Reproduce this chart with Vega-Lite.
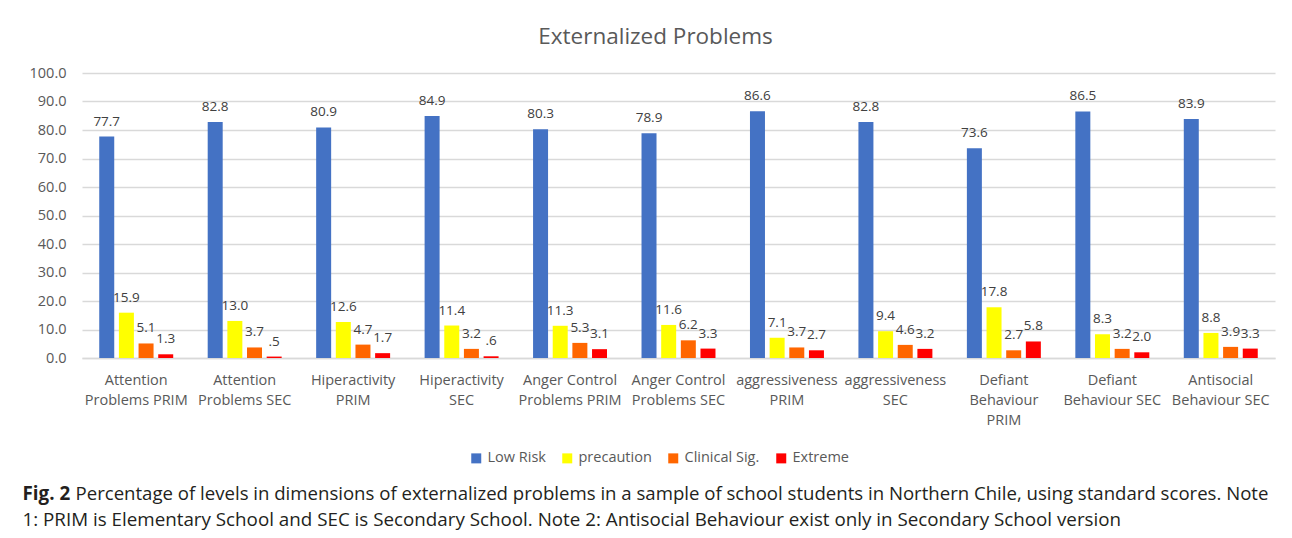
{
  "$schema": "https://vega.github.io/schema/vega-lite/v6.json",
  "autosize": {"type": "none"},
  "width": 1193,
  "height": 285,
  "padding": {"left": 82, "top": 73, "right": 17, "bottom": 180},
  "background": "white",
  "title": {
    "text": "Externalized Problems",
    "fontSize": 22.5,
    "font": "Open Sans",
    "fontWeight": "normal",
    "color": "#595959",
    "anchor": "middle",
    "frame": "group",
    "dx": -23,
    "offset": 17
  },
  "data": {
    "values": [
      {"dimension": "Attention\nProblems PRIM", "level": "Low Risk", "value": 77.7},
      {"dimension": "Attention\nProblems PRIM", "level": "precaution", "value": 15.9},
      {"dimension": "Attention\nProblems PRIM", "level": "Clinical Sig.", "value": 5.1},
      {"dimension": "Attention\nProblems PRIM", "level": "Extreme", "value": 1.3},
      {"dimension": "Attention\nProblems SEC", "level": "Low Risk", "value": 82.8},
      {"dimension": "Attention\nProblems SEC", "level": "precaution", "value": 13.0},
      {"dimension": "Attention\nProblems SEC", "level": "Clinical Sig.", "value": 3.7},
      {"dimension": "Attention\nProblems SEC", "level": "Extreme", "value": 0.5},
      {"dimension": "Hiperactivity\nPRIM", "level": "Low Risk", "value": 80.9},
      {"dimension": "Hiperactivity\nPRIM", "level": "precaution", "value": 12.6},
      {"dimension": "Hiperactivity\nPRIM", "level": "Clinical Sig.", "value": 4.7},
      {"dimension": "Hiperactivity\nPRIM", "level": "Extreme", "value": 1.7},
      {"dimension": "Hiperactivity\nSEC", "level": "Low Risk", "value": 84.9},
      {"dimension": "Hiperactivity\nSEC", "level": "precaution", "value": 11.4},
      {"dimension": "Hiperactivity\nSEC", "level": "Clinical Sig.", "value": 3.2},
      {"dimension": "Hiperactivity\nSEC", "level": "Extreme", "value": 0.6},
      {"dimension": "Anger Control\nProblems PRIM", "level": "Low Risk", "value": 80.3},
      {"dimension": "Anger Control\nProblems PRIM", "level": "precaution", "value": 11.3},
      {"dimension": "Anger Control\nProblems PRIM", "level": "Clinical Sig.", "value": 5.3},
      {"dimension": "Anger Control\nProblems PRIM", "level": "Extreme", "value": 3.1},
      {"dimension": "Anger Control\nProblems SEC", "level": "Low Risk", "value": 78.9},
      {"dimension": "Anger Control\nProblems SEC", "level": "precaution", "value": 11.6},
      {"dimension": "Anger Control\nProblems SEC", "level": "Clinical Sig.", "value": 6.2},
      {"dimension": "Anger Control\nProblems SEC", "level": "Extreme", "value": 3.3},
      {"dimension": "aggressiveness\nPRIM", "level": "Low Risk", "value": 86.6},
      {"dimension": "aggressiveness\nPRIM", "level": "precaution", "value": 7.1},
      {"dimension": "aggressiveness\nPRIM", "level": "Clinical Sig.", "value": 3.7},
      {"dimension": "aggressiveness\nPRIM", "level": "Extreme", "value": 2.7},
      {"dimension": "aggressiveness\nSEC", "level": "Low Risk", "value": 82.8},
      {"dimension": "aggressiveness\nSEC", "level": "precaution", "value": 9.4},
      {"dimension": "aggressiveness\nSEC", "level": "Clinical Sig.", "value": 4.6},
      {"dimension": "aggressiveness\nSEC", "level": "Extreme", "value": 3.2},
      {"dimension": "Defiant\nBehaviour\nPRIM", "level": "Low Risk", "value": 73.6},
      {"dimension": "Defiant\nBehaviour\nPRIM", "level": "precaution", "value": 17.8},
      {"dimension": "Defiant\nBehaviour\nPRIM", "level": "Clinical Sig.", "value": 2.7},
      {"dimension": "Defiant\nBehaviour\nPRIM", "level": "Extreme", "value": 5.8},
      {"dimension": "Defiant\nBehaviour SEC", "level": "Low Risk", "value": 86.5},
      {"dimension": "Defiant\nBehaviour SEC", "level": "precaution", "value": 8.3},
      {"dimension": "Defiant\nBehaviour SEC", "level": "Clinical Sig.", "value": 3.2},
      {"dimension": "Defiant\nBehaviour SEC", "level": "Extreme", "value": 2.0},
      {"dimension": "Antisocial\nBehaviour SEC", "level": "Low Risk", "value": 83.9},
      {"dimension": "Antisocial\nBehaviour SEC", "level": "precaution", "value": 8.8},
      {"dimension": "Antisocial\nBehaviour SEC", "level": "Clinical Sig.", "value": 3.9},
      {"dimension": "Antisocial\nBehaviour SEC", "level": "Extreme", "value": 3.3}
    ]
  },
  "transform": [
    {"calculate": "datum.value < 1 ? substring(format(datum.value, '.1f'), 1) : format(datum.value, '.1f')", "as": "label"}
  ],
  "encoding": {
    "xOffset": {
      "field": "level",
      "type": "nominal",
      "sort": ["Low Risk", "precaution", "Clinical Sig.", "Extreme"],
      "scale": {"paddingInner": 0.237, "paddingOuter": 0}
    },
    "y": {
      "field": "value",
      "type": "quantitative",
      "scale": {"domain": [0, 100], "nice": false},
      "axis": {
        "values": [0, 10, 20, 30, 40, 50, 60, 70, 80, 90, 100],
        "format": ".1f",
        "labelFontSize": 14.5,
        "labelColor": "#595959",
        "labelFont": "Open Sans",
        "labelPadding": 16,
        "ticks": false,
        "domain": false,
        "grid": true,
        "gridColor": "#D9D9D9",
        "gridWidth": 1.3,
        "title": "Fig. 2",
        "titleAngle": 0,
        "titleX": -60,
        "titleY": 426,
        "titleAlign": "left",
        "titleBaseline": "alphabetic",
        "titleFont": "Open Sans",
        "titleFontSize": 18.8,
        "titleFontWeight": "bold",
        "titleColor": "#231F20"
      }
    }
  },
  "layer": [
    {
      "mark": {"type": "bar"},
      "encoding": {
        "x": {
          "field": "dimension",
          "type": "nominal",
          "sort": null,
          "scale": {"paddingInner": 0.318, "paddingOuter": 0.159},
          "axis": {
            "orient": "bottom",
            "labelAngle": 0,
            "labelExpr": "split(datum.label, '\\n')",
            "labelFontSize": 14.5,
            "labelLineHeight": 20,
            "labelColor": "#595959",
            "labelFont": "Open Sans",
            "labelPadding": 15,
            "labelLimit": 200,
            "ticks": false,
            "domain": true,
            "domainColor": "#D9D9D9",
            "domainWidth": 1.3,
            "title": "1: PRIM is Elementary School and SEC is Secondary School. Note 2: Antisocial Behaviour exist only in Secondary School version",
            "titleX": -60,
            "titleY": 167,
            "titleAlign": "left",
            "titleBaseline": "alphabetic",
            "titleAnchor": "start",
            "titleFont": "Open Sans",
            "titleFontSize": 18.8,
            "titleFontWeight": "normal",
            "titleColor": "#231F20"
          }
        },
        "color": {
          "field": "level",
          "type": "nominal",
          "scale": {
            "domain": ["Low Risk", "precaution", "Clinical Sig.", "Extreme"],
            "range": ["#4472C4", "#FFFF00", "#FF6600", "#FF0000"]
          },
          "legend": {
            "title": null,
            "orient": "none",
            "legendX": 387,
            "legendY": 378,
            "direction": "horizontal",
            "columns": 4,
            "symbolType": "square",
            "symbolSize": 100,
            "symbolStrokeWidth": 0,
            "labelFontSize": 14.5,
            "labelFont": "Open Sans",
            "labelColor": "#595959",
            "labelOffset": 4,
            "columnPadding": 14
          }
        }
      }
    },
    {
      "mark": {"type": "text", "baseline": "alphabetic", "dy": -11, "fontSize": 13.5, "font": "Open Sans", "color": "#404040"},
      "encoding": {
        "x": {
          "field": "dimension",
          "type": "nominal",
          "sort": null,
          "axis": {
            "orient": "bottom",
            "labels": false,
            "ticks": false,
            "domain": false,
            "grid": false,
            "title": "Percentage of levels in dimensions of externalized problems in a sample of school students in Northern Chile, using standard scores. Note",
            "titleX": -7,
            "titleY": 141,
            "titleAlign": "left",
            "titleBaseline": "alphabetic",
            "titleAnchor": "start",
            "titleFont": "Open Sans",
            "titleFontSize": 18.6,
            "titleFontWeight": "normal",
            "titleColor": "#231F20"
          }
        },
        "text": {"field": "label", "type": "nominal"}
      }
    }
  ],
  "resolve": {"axis": {"x": "independent"}},
  "config": {
    "view": {"stroke": null}
  }
}
